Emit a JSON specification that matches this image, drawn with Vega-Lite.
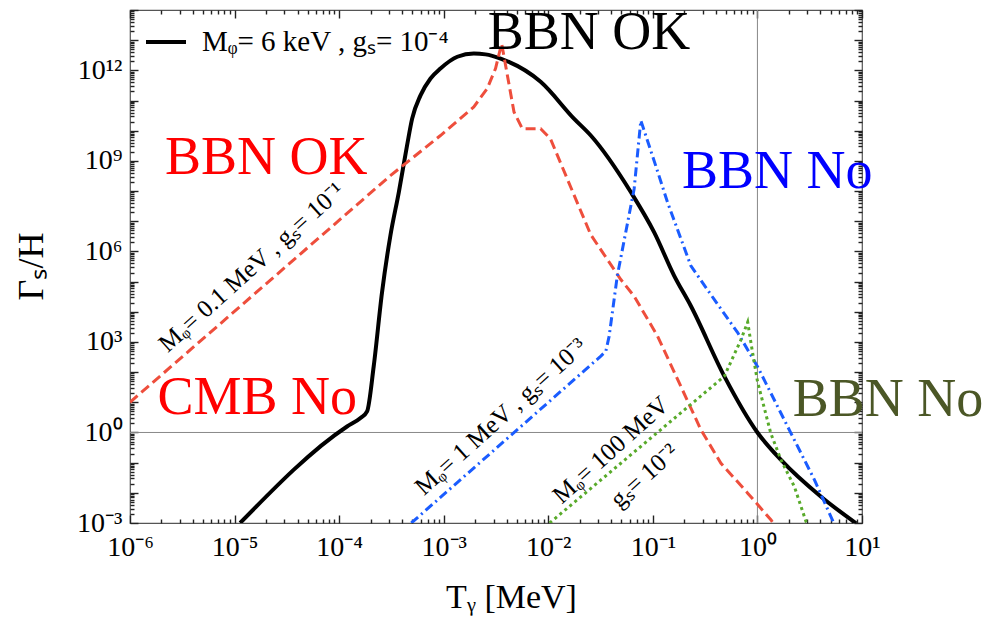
{
  "$schema": "https://vega.github.io/schema/vega-lite/v6.json",
  "width": 732,
  "height": 513,
  "autosize": {"type": "none"},
  "padding": {"left": 130, "top": 10, "right": 121, "bottom": 98},
  "background": "white",
  "config": {
    "view": {"stroke": "#555", "strokeWidth": 1.2},
    "font": "Liberation Serif",
    "axis": {
      "domain": false, "grid": false, "ticks": true, "tickColor": "#222", "tickWidth": 1.4, "zindex": 2,
      "labelFont": "Liberation Serif", "labelFontSize": 28, "labelColor": "black",
      "labelOverlap": false, "labelFlush": false,
      "titleFont": "Liberation Serif", "titleFontWeight": "normal", "titleColor": "black"
    }
  },
  "datasets": {
    "curves": [
      {"s": "6keV", "T": 1.13e-5, "G": 1e-3},
      {"s": "6keV", "T": 1.19e-4, "G": 1.58},
      {"s": "6keV", "T": 1.60e-4, "G": 3.02},
      {"s": "6keV", "T": 1.85e-4, "G": 5.01},
      {"s": "6keV", "T": 2.14e-4, "G": 155},
      {"s": "6keV", "T": 2.57e-4, "G": 4.37e4},
      {"s": "6keV", "T": 3.09e-4, "G": 3.31e6},
      {"s": "6keV", "T": 3.72e-4, "G": 9.12e7},
      {"s": "6keV", "T": 4.46e-4, "G": 3.24e9},
      {"s": "6keV", "T": 4.99e-4, "G": 2.51e10},
      {"s": "6keV", "T": 6.00e-4, "G": 1.48e11},
      {"s": "6keV", "T": 7.48e-4, "G": 5.37e11},
      {"s": "6keV", "T": 9.31e-4, "G": 1.15e12},
      {"s": "6keV", "T": 1.35e-3, "G": 2.82e12},
      {"s": "6keV", "T": 1.94e-3, "G": 3.63e12},
      {"s": "6keV", "T": 2.51e-3, "G": 3.39e12},
      {"s": "6keV", "T": 3.50e-3, "G": 2.45e12},
      {"s": "6keV", "T": 8.45e-3, "G": 4.17e11},
      {"s": "6keV", "T": 1.76e-2, "G": 2.51e10},
      {"s": "6keV", "T": 2.55e-2, "G": 6.92e9},
      {"s": "6keV", "T": 6.17e-2, "G": 9.12e7},
      {"s": "6keV", "T": 0.103, "G": 4.27e6},
      {"s": "6keV", "T": 0.160, "G": 1.55e5},
      {"s": "6keV", "T": 0.231, "G": 1.55e4},
      {"s": "6keV", "T": 0.483, "G": 72.4},
      {"s": "6keV", "T": 1.0, "G": 1.0},
      {"s": "6keV", "T": 1.68, "G": 0.123},
      {"s": "6keV", "T": 4.06, "G": 7.41e-3},
      {"s": "6keV", "T": 8.79, "G": 9.77e-4},

      {"s": "0.1MeV", "T": 1e-6, "G": 10},
      {"s": "0.1MeV", "T": 3.09e-4, "G": 3.24e8},
      {"s": "0.1MeV", "T": 9.31e-4, "G": 6.92e9},
      {"s": "0.1MeV", "T": 1.94e-3, "G": 6.17e10},
      {"s": "0.1MeV", "T": 2.61e-3, "G": 2.51e11},
      {"s": "0.1MeV", "T": 3.13e-3, "G": 1.15e12},
      {"s": "0.1MeV", "T": 3.58e-3, "G": 7.76e12},
      {"s": "0.1MeV", "T": 4.06e-3, "G": 6.92e11},
      {"s": "0.1MeV", "T": 4.70e-3, "G": 4.17e10},
      {"s": "0.1MeV", "T": 5.64e-3, "G": 1.17e10},
      {"s": "0.1MeV", "T": 8.45e-3, "G": 1.17e10},
      {"s": "0.1MeV", "T": 1.05e-2, "G": 5.37e9},
      {"s": "0.1MeV", "T": 1.52e-2, "G": 2.51e8},
      {"s": "0.1MeV", "T": 2.55e-2, "G": 3.55e6},
      {"s": "0.1MeV", "T": 4.94e-2, "G": 1.17e5},
      {"s": "0.1MeV", "T": 6.61e-2, "G": 3.31e4},
      {"s": "0.1MeV", "T": 0.111, "G": 1.55e3},
      {"s": "0.1MeV", "T": 0.185, "G": 33.9},
      {"s": "0.1MeV", "T": 0.288, "G": 1.23},
      {"s": "0.1MeV", "T": 0.448, "G": 9.55e-2},
      {"s": "0.1MeV", "T": 0.807, "G": 9.77e-3},
      {"s": "0.1MeV", "T": 1.35, "G": 1.26e-3},
      {"s": "0.1MeV", "T": 1.41, "G": 1e-3},

      {"s": "1MeV", "T": 4.90e-4, "G": 1e-3},
      {"s": "1MeV", "T": 3.18e-2, "G": 339},
      {"s": "1MeV", "T": 3.55e-2, "G": 490},
      {"s": "1MeV", "T": 3.82e-2, "G": 1.55e3},
      {"s": "1MeV", "T": 4.57e-2, "G": 1.55e5},
      {"s": "1MeV", "T": 6.62e-2, "G": 1.17e8},
      {"s": "1MeV", "T": 7.67e-2, "G": 2.19e10},
      {"s": "1MeV", "T": 0.111, "G": 4.47e8},
      {"s": "1MeV", "T": 0.138, "G": 4.27e7},
      {"s": "1MeV", "T": 0.231, "G": 3.31e5},
      {"s": "1MeV", "T": 0.386, "G": 2.57e4},
      {"s": "1MeV", "T": 0.647, "G": 2.04e3},
      {"s": "1MeV", "T": 1.0, "G": 155},
      {"s": "1MeV", "T": 2.09, "G": 0.955},
      {"s": "1MeV", "T": 3.51, "G": 2.69e-2},
      {"s": "1MeV", "T": 5.37, "G": 1e-3},

      {"s": "100MeV", "T": 1.03e-2, "G": 1e-3},
      {"s": "100MeV", "T": 0.482, "G": 72.4},
      {"s": "100MeV", "T": 0.697, "G": 1.2e3},
      {"s": "100MeV", "T": 0.807, "G": 4.57e3},
      {"s": "100MeV", "T": 0.867, "G": 933},
      {"s": "100MeV", "T": 1.0, "G": 50},
      {"s": "100MeV", "T": 1.34, "G": 0.955},
      {"s": "100MeV", "T": 1.68, "G": 0.123},
      {"s": "100MeV", "T": 2.26, "G": 1.58e-2},
      {"s": "100MeV", "T": 2.92, "G": 1.10e-3},
      {"s": "100MeV", "T": 2.99, "G": 1e-3}
    ]
  },
  "resolve": {"axis": {"x": "independent", "y": "independent"}},
  "layer": [
    {
      "data": {"values": [{"v": 1}]},
      "mark": {"type": "rule", "color": "#888", "strokeWidth": 1},
      "encoding": {
        "y": {"field": "v", "type": "quantitative", "scale": {"type": "log", "domain": [1e-3, 1e14], "nice": false}, "axis": null}
      }
    },
    {
      "data": {"values": [{"v": 1}]},
      "mark": {"type": "rule", "color": "#888", "strokeWidth": 1},
      "encoding": {
        "x": {"field": "v", "type": "quantitative", "scale": {"type": "log", "domain": [1e-6, 10], "nice": false}, "axis": null}
      }
    },
    {
      "data": {"name": "curves"},
      "transform": [{"filter": "datum.s == '6keV'"}],
      "mark": {"type": "line", "strokeWidth": 4, "interpolate": "monotone", "clip": true},
      "encoding": {
        "x": {"field": "T", "type": "quantitative", "scale": {"type": "log", "domain": [1e-6, 10], "nice": false},
          "axis": {
            "orient": "bottom", "offset": -8, "tickSize": 8,
            "values": [1e-6,1e-5,1e-4,1e-3,1e-2,0.1,1,10],
            "labelExpr": "['10⁻⁶','10⁻⁵','10⁻⁴','10⁻³','10⁻²','10⁻¹','10⁰','10¹'][round(log(datum.value)/LN10) + 6]",
            "labelBaseline": "top", "labelAlign": "center", "labelPadding": 10,
            "title": "Tᵧ [MeV]", "titleFontSize": 34, "titleX": 381, "titleY": 92,
            "titleBaseline": "alphabetic", "titleAlign": "center"
          }
        },
        "y": {"field": "G", "type": "quantitative", "scale": {"type": "log", "domain": [1e-3, 1e14], "nice": false},
          "axis": {
            "orient": "left", "offset": -8, "tickSize": 8,
            "values": [1e-3,1e-2,0.1,1,1e1,1e2,1e3,1e4,1e5,1e6,1e7,1e8,1e9,1e10,1e11,1e12,1e13,1e14],
            "labelExpr": "['10⁻³','','','10⁰','','','10³','','','10⁶','','','10⁹','','','10¹²','','',''][round(log(datum.value)/LN10) + 3]",
            "labelBaseline": "middle", "labelAlign": "right", "labelPadding": 8,
            "title": "Γₛ/H", "titleFontSize": 36, "titleAngle": 270, "titleX": -96, "titleY": 256,
            "titleBaseline": "alphabetic", "titleAlign": "center"
          }
        },
        "color": {"field": "s", "type": "nominal", "scale": {"domain": ["6keV"], "range": ["black"]},
          "legend": {
            "orient": "none", "legendX": 14, "legendY": 10, "title": null, "values": ["6keV"],
            "labelExpr": "'Mᵩ= 6 keV , gₛ= 10⁻⁴'", "symbolType": "stroke", "symbolSize": 1600,
            "symbolStrokeWidth": 4, "symbolStrokeColor": "black", "labelFont": "Liberation Serif",
            "labelFontSize": 29, "labelColor": "black", "labelOffset": 14, "labelLimit": 600, "padding": 0
          }
        }
      }
    },
    {
      "data": {"name": "curves"},
      "transform": [{"filter": "datum.s == '0.1MeV'"}],
      "mark": {"type": "line", "strokeWidth": 3, "color": "#ee4e3c", "strokeDash": [10, 5], "clip": true},
      "encoding": {
        "x": {"field": "T", "type": "quantitative", "scale": {"type": "log", "domain": [1e-6, 10], "nice": false},
          "axis": {
            "orient": "top", "labels": false, "title": null, "offset": -8, "tickSize": 8,
            "values": [1e-6,1e-5,1e-4,1e-3,1e-2,0.1,1,10]
          }
        },
        "y": {"field": "G", "type": "quantitative", "scale": {"type": "log", "domain": [1e-3, 1e14], "nice": false},
          "axis": {
            "orient": "right", "labels": false, "title": null, "offset": -8, "tickSize": 8,
            "values": [1e-3,1e-2,0.1,1,1e1,1e2,1e3,1e4,1e5,1e6,1e7,1e8,1e9,1e10,1e11,1e12,1e13,1e14]
          }
        }
      }
    },
    {
      "data": {"name": "curves"},
      "transform": [{"filter": "datum.s == '1MeV'"}],
      "mark": {"type": "line", "strokeWidth": 3, "color": "#1a5cff", "strokeDash": [9, 4, 2, 4], "clip": true},
      "encoding": {
        "x": {"field": "T", "type": "quantitative", "scale": {"type": "log", "domain": [1e-6, 10], "nice": false},
          "axis": {
            "orient": "bottom", "labels": false, "title": null, "offset": -4, "tickSize": 4,
            "values": [2e-6,3e-6,4e-6,5e-6,6e-6,7e-6,8e-6,9e-6,2e-5,3e-5,4e-5,5e-5,6e-5,7e-5,8e-5,9e-5,2e-4,3e-4,4e-4,5e-4,6e-4,7e-4,8e-4,9e-4,2e-3,3e-3,4e-3,5e-3,6e-3,7e-3,8e-3,9e-3,2e-2,3e-2,4e-2,5e-2,6e-2,7e-2,8e-2,9e-2,0.2,0.3,0.4,0.5,0.6,0.7,0.8,0.9,2,3,4,5,6,7,8,9]
          }
        },
        "y": {"field": "G", "type": "quantitative", "scale": {"type": "log", "domain": [1e-3, 1e14], "nice": false},
          "axis": {
            "orient": "left", "labels": false, "title": null, "offset": -4, "tickSize": 4,
            "values": [2e-3,3e-3,4e-3,5e-3,6e-3,7e-3,8e-3,9e-3,2e-2,3e-2,4e-2,5e-2,6e-2,7e-2,8e-2,9e-2,0.2,0.3,0.4,0.5,0.6,0.7,0.8,0.9,2,3,4,5,6,7,8,9,2e1,3e1,4e1,5e1,6e1,7e1,8e1,9e1,2e2,3e2,4e2,5e2,6e2,7e2,8e2,9e2,2e3,3e3,4e3,5e3,6e3,7e3,8e3,9e3,2e4,3e4,4e4,5e4,6e4,7e4,8e4,9e4,2e5,3e5,4e5,5e5,6e5,7e5,8e5,9e5,2e6,3e6,4e6,5e6,6e6,7e6,8e6,9e6,2e7,3e7,4e7,5e7,6e7,7e7,8e7,9e7,2e8,3e8,4e8,5e8,6e8,7e8,8e8,9e8,2e9,3e9,4e9,5e9,6e9,7e9,8e9,9e9,2e10,3e10,4e10,5e10,6e10,7e10,8e10,9e10,2e11,3e11,4e11,5e11,6e11,7e11,8e11,9e11,2e12,3e12,4e12,5e12,6e12,7e12,8e12,9e12,2e13,3e13,4e13,5e13,6e13,7e13,8e13,9e13]
          }
        }
      }
    },
    {
      "data": {"name": "curves"},
      "transform": [{"filter": "datum.s == '100MeV'"}],
      "mark": {"type": "line", "strokeWidth": 3, "color": "#58aa2a", "strokeDash": [3, 3.5], "clip": true},
      "encoding": {
        "x": {"field": "T", "type": "quantitative", "scale": {"type": "log", "domain": [1e-6, 10], "nice": false},
          "axis": {
            "orient": "top", "labels": false, "title": null, "offset": -4, "tickSize": 4,
            "values": [2e-6,3e-6,4e-6,5e-6,6e-6,7e-6,8e-6,9e-6,2e-5,3e-5,4e-5,5e-5,6e-5,7e-5,8e-5,9e-5,2e-4,3e-4,4e-4,5e-4,6e-4,7e-4,8e-4,9e-4,2e-3,3e-3,4e-3,5e-3,6e-3,7e-3,8e-3,9e-3,2e-2,3e-2,4e-2,5e-2,6e-2,7e-2,8e-2,9e-2,0.2,0.3,0.4,0.5,0.6,0.7,0.8,0.9,2,3,4,5,6,7,8,9]
          }
        },
        "y": {"field": "G", "type": "quantitative", "scale": {"type": "log", "domain": [1e-3, 1e14], "nice": false},
          "axis": {
            "orient": "right", "labels": false, "title": null, "offset": -4, "tickSize": 4,
            "values": [2e-3,3e-3,4e-3,5e-3,6e-3,7e-3,8e-3,9e-3,2e-2,3e-2,4e-2,5e-2,6e-2,7e-2,8e-2,9e-2,0.2,0.3,0.4,0.5,0.6,0.7,0.8,0.9,2,3,4,5,6,7,8,9,2e1,3e1,4e1,5e1,6e1,7e1,8e1,9e1,2e2,3e2,4e2,5e2,6e2,7e2,8e2,9e2,2e3,3e3,4e3,5e3,6e3,7e3,8e3,9e3,2e4,3e4,4e4,5e4,6e4,7e4,8e4,9e4,2e5,3e5,4e5,5e5,6e5,7e5,8e5,9e5,2e6,3e6,4e6,5e6,6e6,7e6,8e6,9e6,2e7,3e7,4e7,5e7,6e7,7e7,8e7,9e7,2e8,3e8,4e8,5e8,6e8,7e8,8e8,9e8,2e9,3e9,4e9,5e9,6e9,7e9,8e9,9e9,2e10,3e10,4e10,5e10,6e10,7e10,8e10,9e10,2e11,3e11,4e11,5e11,6e11,7e11,8e11,9e11,2e12,3e12,4e12,5e12,6e12,7e12,8e12,9e12,2e13,3e13,4e13,5e13,6e13,7e13,8e13,9e13]
          }
        }
      }
    },
    {
      "data": {"values": [{"label": "BBN OK", "T": 2.16e-6, "G": 3.72e8}, {"label": "CMB No", "T": 1.83e-6, "G": 4.07}]},
      "mark": {"type": "text", "font": "Liberation Serif", "fontSize": 54, "color": "#ff0000", "align": "left", "baseline": "alphabetic"},
      "encoding": {
        "x": {"field": "T", "type": "quantitative", "scale": {"type": "log", "domain": [1e-6, 10], "nice": false}, "axis": null},
        "y": {"field": "G", "type": "quantitative", "scale": {"type": "log", "domain": [1e-3, 1e14], "nice": false}, "axis": null},
        "text": {"field": "label"}
      }
    },
    {
      "data": {"values": [{"label": "BBN OK", "T": 2.64e-3, "G": 5.01e12}]},
      "mark": {"type": "text", "font": "Liberation Serif", "fontSize": 54, "color": "black", "align": "left", "baseline": "alphabetic"},
      "encoding": {
        "x": {"field": "T", "type": "quantitative", "scale": {"type": "log", "domain": [1e-6, 10], "nice": false}, "axis": null},
        "y": {"field": "G", "type": "quantitative", "scale": {"type": "log", "domain": [1e-3, 1e14], "nice": false}, "axis": null},
        "text": {"field": "label"}
      }
    },
    {
      "data": {"values": [{"label": "BBN No", "T": 0.190, "G": 1.23e8}]},
      "mark": {"type": "text", "font": "Liberation Serif", "fontSize": 54, "color": "#0000ff", "align": "left", "baseline": "alphabetic"},
      "encoding": {
        "x": {"field": "T", "type": "quantitative", "scale": {"type": "log", "domain": [1e-6, 10], "nice": false}, "axis": null},
        "y": {"field": "G", "type": "quantitative", "scale": {"type": "log", "domain": [1e-3, 1e14], "nice": false}, "axis": null},
        "text": {"field": "label"}
      }
    },
    {
      "data": {"values": [{"label": "BBN No", "T": 2.18, "G": 3.39}]},
      "mark": {"type": "text", "font": "Liberation Serif", "fontSize": 54, "color": "#4b5726", "align": "left", "baseline": "alphabetic"},
      "encoding": {
        "x": {"field": "T", "type": "quantitative", "scale": {"type": "log", "domain": [1e-6, 10], "nice": false}, "axis": null},
        "y": {"field": "G", "type": "quantitative", "scale": {"type": "log", "domain": [1e-3, 1e14], "nice": false}, "axis": null},
        "text": {"field": "label"}
      }
    },
    {
      "data": {"values": [
        {"label": "Mᵩ= 0.1 MeV , gₛ= 10⁻¹", "T": 1.45e-5, "G": 3.02e5},
        {"label": "Mᵩ= 1 MeV , gₛ= 10⁻³", "T": 3.50e-3, "G": 3.39},
        {"label": "Mᵩ= 100 MeV", "T": 3.96e-2, "G": 0.266},
        {"label": "gₛ= 10⁻²", "T": 8.26e-2, "G": 3.72e-2}
      ]},
      "mark": {"type": "text", "font": "Liberation Serif", "fontSize": 25, "color": "black", "align": "center", "baseline": "middle", "angle": 318},
      "encoding": {
        "x": {"field": "T", "type": "quantitative", "scale": {"type": "log", "domain": [1e-6, 10], "nice": false}, "axis": null},
        "y": {"field": "G", "type": "quantitative", "scale": {"type": "log", "domain": [1e-3, 1e14], "nice": false}, "axis": null},
        "text": {"field": "label"}
      }
    }
  ]
}
